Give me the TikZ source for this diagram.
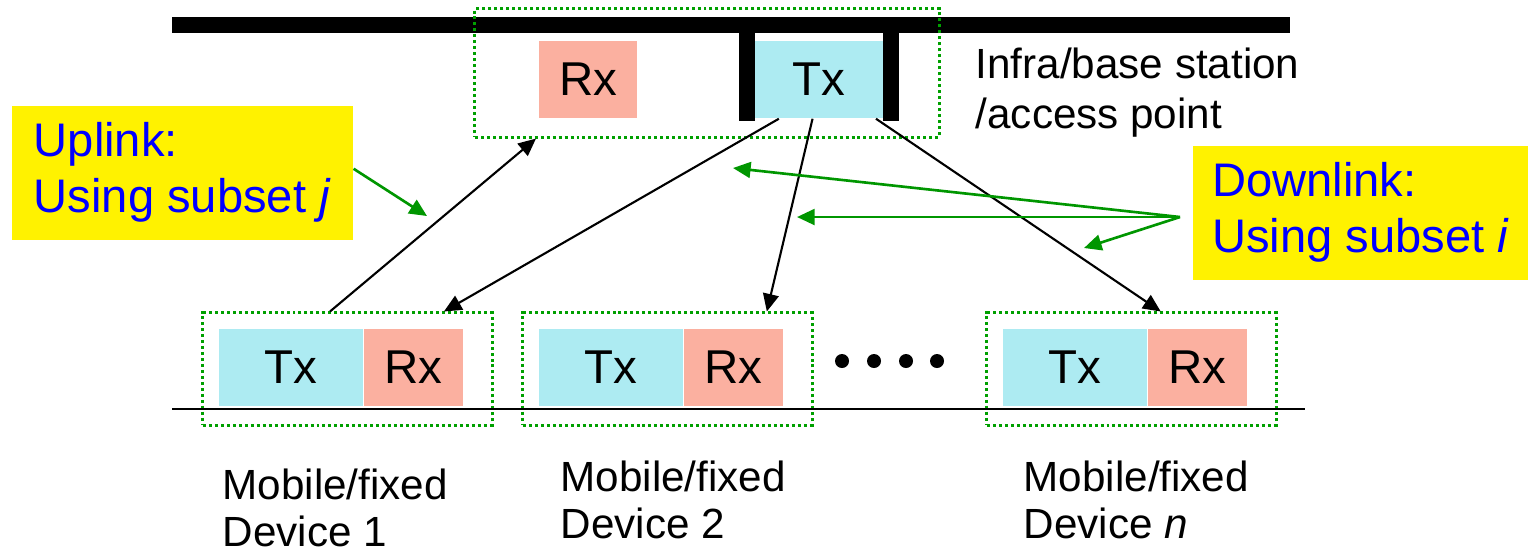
\documentclass[tikz,border=0pt]{standalone}
\usepackage{fontspec}
\setmainfont{Liberation Sans}
\usetikzlibrary{arrows.meta,positioning,calc}

\definecolor{txcol}{RGB}{173,235,242}
\definecolor{rxcol}{RGB}{251,176,160}
\definecolor{dotgreen}{RGB}{0,160,0}
\definecolor{ptrgreen}{RGB}{0,150,0}

\begin{document}
\begin{tikzpicture}[x=0.01cm, y=-0.01cm,
    txbox/.style={fill=txcol, minimum width=1.44cm, minimum height=0.77cm, inner sep=0pt, font=\fontsize{13.5}{16}\selectfont},
    rxbox/.style={fill=rxcol, minimum width=0.98cm, minimum height=0.77cm, inner sep=0pt, font=\fontsize{13.5}{16}\selectfont},
    devbox/.style={draw=dotgreen, line width=0.85pt, dash pattern=on 0.85pt off 0.85pt, minimum width=2.89cm, minimum height=1.12cm},
    callout/.style={fill=yellow, text=blue, inner sep=0pt, align=left, minimum height=1.34cm, font=\fontsize{13.4}{15.9}\selectfont},
    lbl/.style={inner sep=0pt, align=left, font=\fontsize{12}{13.4}\selectfont},
    link/.style={-{Triangle[length=5pt,width=4.5pt]}, line width=0.6pt},
    hint/.style={link, draw=ptrgreen, line width=0.75pt}
]
\useasboundingbox (0,0) rectangle (1528,550);

% access point
\draw[line width=4.55pt] (172,25) -- (1290,25);
\node[devbox, minimum width=4.64cm, minimum height=1.28cm] (ap) at (707,73) {};
\node[rxbox] (aprx) at (588,79.5) {Rx};
\node[txbox, minimum width=1.28cm] (aptx) at (819,79.5) {Tx};
\fill (739,33) rectangle (755,121);
\fill (883,33) rectangle (899,121);
\node[lbl, anchor=north west, font=\fontsize{12}{14.2}\selectfont] (aplbl) at (975,47) {Infra/base station\\/access point};

% devices
\node[devbox] (dev1) at (347.5,369) {};
\node[txbox] (tx1) at (291,367.5) {Tx};
\node[rxbox, right=0pt of tx1] (rx1) {Rx};
\node[devbox] (dev2) at (667.5,369) {};
\node[txbox] (tx2) at (611,367.5) {Tx};
\node[rxbox, right=0pt of tx2] (rx2) {Rx};
\node[devbox] (devn) at (1131.5,369) {};
\node[txbox] (txn) at (1075,367.5) {Tx};
\node[rxbox, right=0pt of txn] (rxn) {Rx};
\draw[line width=0.6pt] (172,409) -- (1305,409);
\fill (842,361) circle (0.07cm) (874,361) circle (0.07cm) (906,361) circle (0.07cm) (937,361) circle (0.07cm);

\node[lbl, anchor=north west] (lbl1) at (222,468) {Mobile/fixed\\Device 1};
\node[lbl, anchor=north west] (lbl2) at (560,460) {Mobile/fixed\\Device 2};
\node[lbl, anchor=north west] (lbln) at (1023,460) {Mobile/fixed\\Device \textit{n}};

% links
\draw[link] ($(dev1.north west)!0.44!(dev1.north east)$) -- ($(ap.south west)!0.134!(ap.south east)$);
\draw[link] ($(aptx.south west)!0.19!(aptx.south east)$) -- ($(dev1.north west)!0.83!(dev1.north east)$);
\draw[link] ($(aptx.south west)!0.45!(aptx.south east)$) -- ($(dev2.north west)!0.84!(dev2.north east)$);
\draw[link] ($(aptx.south west)!0.94!(aptx.south east)$) -- ($(devn.north west)!0.6!(devn.north east)$);

% callouts
\node[callout, anchor=north west, minimum width=3.41cm] (ul) at (11,105) {Uplink:\\Using subset \textit{j}};
\node[callout, anchor=north west, minimum width=3.36cm] (dl) at (1192,145) {Downlink:\\Using subset \textit{i}};
\coordinate (ultip) at (427,216);
\coordinate (dlsrc) at (1180,217);
\coordinate (dltip1) at (733,168);
\coordinate (dltip2) at (797,217);
\coordinate (dltip3) at (1084,248);
\draw[hint] ([yshift=0.04cm]ul.east) -- (ultip);
\draw[hint] (dlsrc) -- (dltip1);
\draw[hint] (dlsrc) -- (dltip2);
\draw[hint] (dlsrc) -- (dltip3);
\end{tikzpicture}
\end{document}
